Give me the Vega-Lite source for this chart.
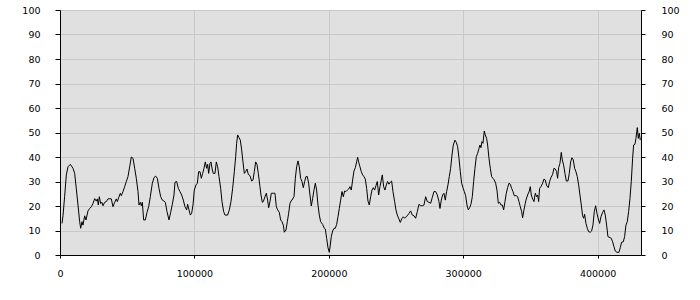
{
  "$schema": "https://vega.github.io/schema/vega-lite/v6.json",
  "width": 581,
  "height": 245,
  "autosize": {"type": "none"},
  "padding": {"left": 60, "top": 10, "right": 59, "bottom": 45},
  "background": "white",
  "config": {
    "view": {"fill": "#e0e0e0", "stroke": null},
    "axis": {
      "labelFont": "DejaVu Sans",
      "labelFontSize": 9.5,
      "labelColor": "#000000",
      "domainColor": "#000000",
      "tickColor": "#000000",
      "gridColor": "#c8c8c8",
      "gridWidth": 1,
      "domainWidth": 1,
      "tickWidth": 1,
      "title": null
    }
  },
  "data": {"values": [
    {"x":1490,"y":12.9},{"x":2230,"y":16},{"x":3470,"y":24},{"x":4710,"y":32.7},{"x":5950,"y":36},{"x":7690,"y":37},{"x":9670,"y":35.4},{"x":10910,"y":33.3},{"x":12150,"y":27},{"x":13390,"y":20.4},{"x":14630,"y":13.6},{"x":15380,"y":10.9},{"x":16370,"y":13.6},{"x":17110,"y":12.2},{"x":18350,"y":16},{"x":19340,"y":14.3},{"x":20830,"y":18},{"x":22070,"y":19},{"x":23310,"y":19.7},{"x":24550,"y":21},{"x":25790,"y":23},{"x":27030,"y":22},{"x":27780,"y":22.9},{"x":28520,"y":20.4},{"x":29260,"y":23.8},{"x":30260,"y":21},{"x":31250,"y":21.5},{"x":31990,"y":20.1},{"x":33230,"y":21.5},{"x":34470,"y":21.8},{"x":35710,"y":22.9},{"x":36950,"y":23},{"x":38190,"y":22.9},{"x":39430,"y":19.7},{"x":40670,"y":21.5},{"x":41910,"y":22.9},{"x":42660,"y":21.8},{"x":43650,"y":23.4},{"x":44890,"y":25.2},{"x":45630,"y":24.2},{"x":46870,"y":25.9},{"x":48110,"y":27.9},{"x":49350,"y":30},{"x":50590,"y":32},{"x":51830,"y":36},{"x":53070,"y":40},{"x":54310,"y":39.5},{"x":55550,"y":35.4},{"x":56790,"y":31.3},{"x":58030,"y":25.9},{"x":58780,"y":20.4},{"x":59770,"y":21.5},{"x":60510,"y":20.1},{"x":61260,"y":21.5},{"x":62250,"y":14.3},{"x":63490,"y":14.3},{"x":64730,"y":17.4},{"x":65970,"y":19.7},{"x":67210,"y":23.8},{"x":68700,"y":29.3},{"x":69940,"y":31.6},{"x":71180,"y":32.2},{"x":72420,"y":31.3},{"x":73660,"y":27.2},{"x":74900,"y":23.8},{"x":76140,"y":22.4},{"x":77380,"y":22},{"x":78370,"y":21.5},{"x":79610,"y":17.7},{"x":81100,"y":14.3},{"x":82340,"y":17.4},{"x":83580,"y":20.7},{"x":84820,"y":24.5},
    {"x":85560,"y":29.7},{"x":86800,"y":30},{"x":88040,"y":27.2},{"x":89280,"y":25.9},{"x":90520,"y":24.5},{"x":91760,"y":22.4},{"x":93000,"y":19.7},{"x":94240,"y":18.4},{"x":94980,"y":20.7},{"x":95980,"y":18.4},{"x":96970,"y":16.3},{"x":97960,"y":17},{"x":98950,"y":20.4},{"x":99940,"y":26.5},{"x":101180,"y":28.6},{"x":102180,"y":29.3},{"x":103170,"y":34},{"x":104160,"y":34},{"x":105150,"y":31.3},{"x":106140,"y":33.3},{"x":107140,"y":35.4},{"x":108130,"y":38},{"x":109120,"y":35.4},{"x":109860,"y":37},{"x":110610,"y":33.3},{"x":111600,"y":37.4},{"x":112340,"y":38},{"x":113340,"y":34.7},{"x":114080,"y":33.3},{"x":115320,"y":33.3},{"x":116310,"y":38},{"x":117300,"y":36},{"x":118300,"y":32},{"x":119540,"y":27.2},{"x":120530,"y":21.8},{"x":121770,"y":17.7},{"x":122760,"y":16.3},{"x":124740,"y":16.3},{"x":125980,"y":18.4},{"x":127220,"y":21.8},{"x":128460,"y":27.2},{"x":129700,"y":34},{"x":130700,"y":40.1},{"x":131440,"y":45.6},{"x":132180,"y":49},{"x":133180,"y":47.9},{"x":134170,"y":46.9},{"x":135160,"y":42.9},{"x":136150,"y":38},{"x":137140,"y":33.3},{"x":138140,"y":34},{"x":139130,"y":35.1},{"x":140120,"y":32.9},{"x":141360,"y":32.4},{"x":142600,"y":30.2},{"x":143590,"y":30.6},{"x":144580,"y":34},{"x":145580,"y":38},{"x":146570,"y":37},{"x":147560,"y":33.3},{"x":148800,"y":27.9},{"x":149540,"y":24.5},{"x":150540,"y":21.5},{"x":151280,"y":21.8},{"x":152520,"y":23.8},{"x":153510,"y":25.2},{"x":154500,"y":22.4},{"x":155250,"y":19.3},{"x":156240,"y":21.8},{"x":157230,"y":25.2},{"x":158720,"y":25.2},{"x":159960,"y":25.2},{"x":160950,"y":19.7},{"x":161940,"y":18.4},{"x":163180,"y":17.4},{"x":164180,"y":14.3},{"x":165170,"y":13.6},{"x":166160,"y":12.2},{"x":166900,"y":9.3},{"x":168140,"y":10.2},{"x":169140,"y":13.6},{"x":170130,"y":17},{"x":171120,"y":21.1},{"x":172360,"y":22.4},
    {"x":172610,"y":22.4},{"x":174100,"y":23.8},{"x":175090,"y":31.3},{"x":176080,"y":36},{"x":177070,"y":38.4},{"x":178060,"y":36},{"x":179060,"y":31.3},{"x":180050,"y":30},{"x":181040,"y":27.5},{"x":182030,"y":30},{"x":183020,"y":32},{"x":184020,"y":32},{"x":185010,"y":29.3},{"x":186000,"y":24.5},{"x":186990,"y":20},{"x":187980,"y":23},{"x":188980,"y":26.5},{"x":189970,"y":29.3},{"x":190960,"y":26.5},{"x":191950,"y":20.4},{"x":192940,"y":16.3},{"x":193940,"y":13.6},{"x":195420,"y":12.5},{"x":196660,"y":10.9},{"x":197410,"y":10.6},{"x":198400,"y":6.8},{"x":199390,"y":3},{"x":200380,"y":1.1},{"x":201130,"y":4.1},{"x":201870,"y":7.5},{"x":202860,"y":9.8},{"x":203860,"y":10.9},{"x":204850,"y":10.9},{"x":205840,"y":12.5},{"x":206830,"y":15.6},{"x":207820,"y":19},{"x":208820,"y":22.4},{"x":209810,"y":25.9},{"x":210800,"y":23.8},{"x":211790,"y":26.1},{"x":212780,"y":25.9},{"x":213780,"y":26.5},{"x":214770,"y":26.9},{"x":215760,"y":27.9},{"x":216750,"y":26.5},{"x":217740,"y":30.6},{"x":218740,"y":34.3},{"x":219730,"y":35.6},{"x":220720,"y":38},{"x":221460,"y":39.9},{"x":222210,"y":38},{"x":223200,"y":36},{"x":224190,"y":34},{"x":225180,"y":32.7},{"x":226180,"y":32},{"x":227170,"y":31},{"x":228160,"y":27.2},{"x":229150,"y":22},{"x":230140,"y":20.4},{"x":231140,"y":23.8},{"x":232130,"y":26.5},{"x":233120,"y":27.5},{"x":234110,"y":26.5},{"x":235100,"y":28.3},{"x":236100,"y":30},{"x":237090,"y":24.5},{"x":238080,"y":27.9},{"x":239070,"y":30.6},{"x":239820,"y":32.7},{"x":240810,"y":27.9},{"x":241800,"y":26.5},{"x":242790,"y":28.6},{"x":243780,"y":30},{"x":244780,"y":28.9},{"x":245770,"y":29.7},{"x":246760,"y":30.2},{"x":247750,"y":25.9},{"x":248990,"y":21.8},{"x":249980,"y":18.4},{"x":250980,"y":16.3},{"x":251970,"y":15},{"x":253210,"y":13.3},{"x":254200,"y":14.7},{"x":255440,"y":15.6},{"x":256430,"y":15},{"x":257420,"y":15.6},{"x":258420,"y":16},
    {"x":259660,"y":17},{"x":260900,"y":18},{"x":262140,"y":16.3},{"x":263380,"y":16},{"x":264620,"y":15},{"x":265860,"y":17.7},{"x":267100,"y":20.7},{"x":268340,"y":20.1},{"x":269580,"y":20.1},{"x":270820,"y":20.4},{"x":272060,"y":23.8},{"x":273300,"y":21.8},{"x":274540,"y":21.5},{"x":275780,"y":21.1},{"x":277020,"y":23.5},{"x":278260,"y":25.9},{"x":279500,"y":25.9},{"x":280740,"y":24.5},{"x":281980,"y":21.8},{"x":282720,"y":19},{"x":283710,"y":22.4},{"x":284700,"y":24.5},{"x":285700,"y":25.2},{"x":286690,"y":22.4},{"x":287680,"y":25.9},{"x":288670,"y":28.6},{"x":289660,"y":32},{"x":290660,"y":35.4},{"x":291650,"y":40.8},{"x":292640,"y":44.9},{"x":293880,"y":46.9},{"x":294870,"y":46},{"x":295860,"y":44.2},{"x":296860,"y":39.5},{"x":297850,"y":34},{"x":298840,"y":29.3},{"x":299830,"y":27.5},{"x":300820,"y":25.9},{"x":301820,"y":24.2},{"x":302810,"y":20.4},{"x":303800,"y":18.4},{"x":304790,"y":19.3},{"x":305780,"y":20.7},{"x":306780,"y":23.8},{"x":307770,"y":30},{"x":308760,"y":35.4},{"x":309750,"y":40.1},{"x":310740,"y":41.5},{"x":311740,"y":43.5},{"x":312480,"y":44.9},{"x":313220,"y":43.8},{"x":313970,"y":46.3},{"x":314710,"y":45.6},{"x":315700,"y":50.6},{"x":316450,"y":49},{"x":317440,"y":47.6},{"x":318180,"y":44.9},{"x":319180,"y":39.5},{"x":320170,"y":35.4},{"x":321160,"y":32},{"x":322150,"y":31.3},{"x":323140,"y":30.6},{"x":324140,"y":29.3},{"x":325130,"y":26.5},{"x":326120,"y":21.1},{"x":327110,"y":21.5},{"x":328100,"y":20.4},{"x":329100,"y":20.4},{"x":330090,"y":18.4},{"x":331080,"y":21.8},{"x":332070,"y":25.2},{"x":333060,"y":27.5},{"x":334060,"y":29.3},{"x":335050,"y":28.9},{"x":336040,"y":27.2},{"x":337030,"y":25.9},{"x":338020,"y":24.2},{"x":339510,"y":24.2},{"x":340500,"y":23.8},{"x":341500,"y":21.8},{"x":342490,"y":19.7},{"x":343480,"y":17.7},{"x":344220,"y":15.2},{"x":345220,"y":18.4},{"x":346210,"y":21.1},
    {"x":346700,"y":22.4},{"x":347940,"y":24.5},{"x":349180,"y":26.1},{"x":349930,"y":27.9},{"x":350670,"y":24.5},{"x":351660,"y":22.9},{"x":352660,"y":21.8},{"x":353650,"y":25.2},{"x":354640,"y":23.8},{"x":355380,"y":24.5},{"x":356130,"y":21.8},{"x":356870,"y":27.2},{"x":357860,"y":27.9},{"x":359100,"y":29.3},{"x":360100,"y":31},{"x":361090,"y":30.6},{"x":362080,"y":28.3},{"x":363320,"y":27.5},{"x":364310,"y":30},{"x":365300,"y":31.6},{"x":366540,"y":32.9},{"x":367540,"y":35.4},{"x":368530,"y":35.1},{"x":369520,"y":34},{"x":370260,"y":31.3},{"x":371010,"y":35.6},{"x":372000,"y":37.4},{"x":372990,"y":41.9},{"x":373740,"y":38.8},{"x":374730,"y":36.7},{"x":375720,"y":33.3},{"x":376710,"y":30.2},{"x":377950,"y":30.2},{"x":378940,"y":33.3},{"x":379940,"y":38},{"x":380930,"y":39.7},{"x":381920,"y":38.8},{"x":382910,"y":35.4},{"x":383900,"y":34},{"x":384900,"y":32},{"x":385890,"y":28.6},{"x":386880,"y":24.5},{"x":387870,"y":20.4},{"x":388860,"y":16},{"x":389610,"y":15},{"x":390350,"y":16.6},{"x":391340,"y":12.9},{"x":392340,"y":10.9},{"x":393330,"y":9.5},{"x":394570,"y":9.3},{"x":395560,"y":9.8},{"x":396550,"y":12.2},{"x":397540,"y":17.7},{"x":398540,"y":20.1},{"x":399530,"y":17},{"x":400520,"y":14.7},{"x":401510,"y":12.9},{"x":402500,"y":15.6},{"x":403740,"y":17.4},{"x":404740,"y":18.4},{"x":405730,"y":16.3},{"x":406720,"y":12.2},{"x":407710,"y":7.5},{"x":409200,"y":7.1},{"x":410190,"y":6.8},{"x":411180,"y":5.4},{"x":412180,"y":3.4},{"x":413170,"y":1.6},{"x":414410,"y":1.1},{"x":415900,"y":1.1},{"x":416890,"y":3},{"x":417880,"y":5.2},{"x":419120,"y":5.4},{"x":420110,"y":7.5},{"x":421100,"y":12.2},{"x":422100,"y":13.6},{"x":423090,"y":17.7},{"x":424080,"y":23},{"x":425070,"y":30},{"x":426060,"y":39.5},{"x":426810,"y":44.9},{"x":427800,"y":45.2},{"x":428540,"y":47.6},{"x":429540,"y":52},{"x":430280,"y":47.6},{"x":431020,"y":49.7},{"x":431770,"y":46.9}
  ]},
  "layer": [
    {
      "mark": {"type": "line", "color": "#000000", "strokeWidth": 1, "interpolate": "linear"},
      "encoding": {
        "x": {"field": "x", "type": "quantitative",
              "scale": {"domain": [0, 432300], "nice": false, "zero": true},
              "axis": {"values": [0, 100000, 200000, 300000, 400000], "format": "d", "grid": true, "tickSize": 3, "labelPadding": 10, "labelFlush": false}},
        "y": {"field": "y", "type": "quantitative",
              "scale": {"domain": [0, 100], "nice": false},
              "axis": {"orient": "left", "values": [0,10,20,30,40,50,60,70,80,90,100], "grid": true, "tickSize": 5, "labelPadding": 15}}
      }
    },
    {
      "mark": {"type": "line", "opacity": 0},
      "encoding": {
        "x": {"field": "x", "type": "quantitative"},
        "y": {"field": "y", "type": "quantitative",
              "scale": {"domain": [0, 100], "nice": false},
              "axis": {"orient": "right", "values": [0,10,20,30,40,50,60,70,80,90,100], "grid": false, "tickSize": 4, "labelPadding": 16}}
      }
    }
  ],
  "resolve": {"scale": {"y": "independent"}, "axis": {"y": "independent"}}
}
